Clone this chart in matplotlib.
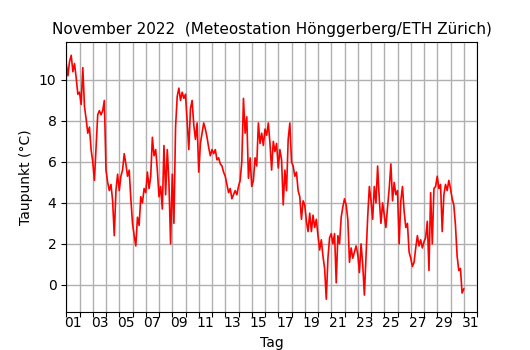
import numpy as np
import matplotlib
matplotlib.use("Agg")
import matplotlib.pyplot as plt

# dew point, 3-hourly readings (00,03,...,21 h) for each day of Nov 2022, plus Dec 1 00h
taupunkt = [
    10.8, 10.2, 10.9, 11.2, 10.4, 10.8, 10.1, 9.3,   # 01
    9.4, 8.8, 10.6, 8.7, 8.1, 7.4, 7.7, 6.6,         # 02
    6.0, 5.1, 6.7, 8.3, 8.5, 8.3, 8.5, 9.0,          # 03
    5.6, 5.0, 4.6, 4.9, 4.1, 2.4, 4.6, 5.4,          # 04
    4.6, 5.3, 5.6, 6.4, 5.9, 5.3, 5.6, 4.2,          # 05
    3.0, 2.4, 1.9, 3.3, 2.9, 4.3, 4.0, 4.7,          # 06
    4.5, 5.5, 4.7, 5.3, 7.2, 6.3, 6.6, 5.6,          # 07
    4.3, 4.8, 3.7, 6.8, 4.4, 6.6, 5.0, 2.0,          # 08
    5.4, 3.0, 7.7, 9.2, 9.6, 9.0, 9.4, 9.1,          # 09
    9.3, 8.0, 6.6, 8.6, 9.0, 7.8, 7.1, 7.9,          # 10
    5.5, 6.9, 7.4, 7.9, 7.6, 7.2, 6.7, 6.3,          # 11
    6.6, 6.4, 6.6, 6.1, 6.2, 5.9, 5.8, 5.5,          # 12
    5.3, 4.9, 4.5, 4.7, 4.2, 4.4, 4.6, 4.4,          # 13
    4.8, 5.1, 6.0, 9.1, 7.4, 8.2, 5.2, 6.2,          # 14
    4.8, 5.1, 6.2, 5.8, 7.9, 6.9, 7.4, 6.8,          # 15
    7.6, 7.3, 7.9, 6.9, 5.6, 7.0, 6.5, 6.9,          # 16
    5.7, 6.6, 6.1, 3.9, 5.6, 4.6, 7.1, 7.9,          # 17
    6.0, 5.8, 5.3, 5.5, 4.6, 4.3, 3.2, 4.1,          # 18
    3.9, 3.1, 2.6, 3.5, 2.6, 3.4, 2.8, 3.2,          # 19
    2.4, 1.7, 2.2, 1.4, 0.8, -0.7, 1.3, 2.3,         # 20
    2.5, 2.0, 2.5, 0.1, 2.4, 2.0, 3.3, 3.8,          # 21
    4.2, 3.9, 3.2, 1.1, 1.8, 1.3, 1.6, 1.9,          # 22
    1.5, 0.6, 2.0, 1.0, -0.5, 1.4, 3.3, 4.8,         # 23
    4.1, 3.2, 4.8, 4.0, 5.8, 4.2, 3.0, 4.0,          # 24
    3.4, 2.8, 3.8, 4.7, 5.9, 4.1, 5.0, 4.4,          # 25
    4.6, 2.0, 4.1, 4.8, 3.6, 2.8, 3.0, 1.6,          # 26
    1.3, 0.9, 1.1, 1.8, 2.4, 1.9, 2.2, 1.8,          # 27
    2.1, 2.3, 3.1, 0.7, 4.5, 2.0, 4.7, 4.8,          # 28
    5.3, 4.7, 4.9, 2.6, 4.4, 4.9, 4.6, 5.1,          # 29
    4.7, 4.2, 3.9, 2.9, 1.4, 0.7, 0.8, -0.4,         # 30
    -0.2,
]
stunden = 3
tage_labels = ["%02d" % d for d in range(1, 32, 2)]

# time axis in days since Nov 1 00:00
t = np.arange(len(taupunkt)) * stunden / 24.0

fig = plt.figure(figsize=(5.3, 3.5), dpi=100)
ax = fig.add_subplot(111)

ax.plot(t, taupunkt, color="red", linewidth=1.2)

ax.set_xlim(0, 31)
ax.set_ylim(-1.3, 11.85)

# day boundaries as ticks + grid, labels centred in the day
ax.set_xticks(range(32))
ax.set_xticklabels([])
ax.set_xticks(np.arange(0.5, 31, 2), tage_labels, minor=True)
ax.tick_params(axis="x", which="minor", length=0)
ax.set_yticks([0, 2, 4, 6, 8, 10])

ax.grid(True, which="major", color="#b0b0b0", linewidth=1)
ax.set_axisbelow(True)

ax.set_title("November 2022  (Meteostation Hönggerberg/ETH Zürich)", fontsize=11)
ax.set_xlabel("Tag")
ax.set_ylabel("Taupunkt (°C)")

plt.savefig("out.png", dpi=100)
